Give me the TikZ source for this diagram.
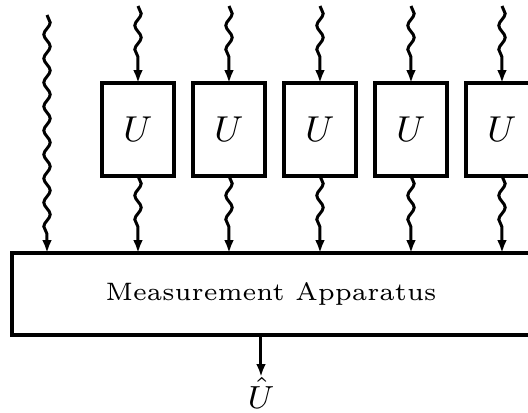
\documentclass[tikz,border=0pt]{standalone}
\usepackage{amsmath}
\usepackage{tikz}
\usetikzlibrary{positioning, arrows.meta, decorations.pathmorphing}

\begin{document}
\begin{tikzpicture}[
    x=0.25pt, y=-0.25pt,
    node distance=4.75pt,
    ubox/.style={rectangle, draw, line width=0.8pt, minimum width=18pt,
                 minimum height=23.25pt, inner sep=0pt, outer sep=0pt,
                 font=\fontsize{9}{10}\selectfont},
    apparatus/.style={rectangle, draw, line width=0.8pt, minimum width=129.5pt,
                      minimum height=20.5pt, inner sep=0pt, outer sep=0pt,
                      font=\fontsize{6.3}{7.5}\selectfont},
    wave/.style={-{Latex[length=3.2pt, width=2.4pt]}, line width=0.75pt,
                 decorate, decoration={snake, amplitude=0.8pt,
                 segment length=6pt, post length=3.6pt}},
    signal/.style={-{Latex[length=3.2pt, width=2.4pt]}, line width=0.75pt},
  ]
    \clip (0,0) rectangle (528,412);

    % blocks
    \node[ubox] (u1) at (138,129.5) {$U$};
    \node[ubox, right=of u1] (u2) {$U$};
    \node[ubox, right=of u2] (u3) {$U$};
    \node[ubox, right=of u3] (u4) {$U$};
    \node[ubox, right=of u4] (u5) {$U$};
    \node[apparatus] (meas) at (271,294) {Measurement Apparatus};
    \node[font=\fontsize{8.5}{10}\selectfont, inner sep=0pt, anchor=base] (uhat) at (261,408) {$\hat{U}$};

    \coordinate (topline) at (0,6);
    \coordinate (in0) at (47,15);

    % quantum inputs
    \draw[wave] (in0) -- (in0 |- meas.north);
    \foreach \i in {1,...,5} {
      \draw[wave] (u\i.north |- topline) -- (u\i.north);
      \draw[wave] (u\i.south) -- (u\i.south |- meas.north);
    }

    % estimate
    \draw[signal] (meas.south -| uhat) -- (uhat.north);
  \end{tikzpicture}
\end{document}
